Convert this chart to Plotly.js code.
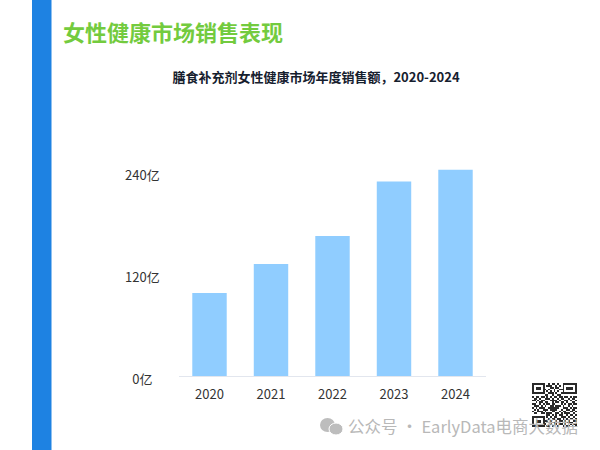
<!DOCTYPE html>
<html><head><meta charset="utf-8">
<script src="https://cdn.plot.ly/plotly-3.0.0.min.js"></script>
<style>html,body{margin:0;padding:0;background:#fff}</style></head>
<body><div id="chart" style="width:600px;height:450px"></div>
<script>
const years = ['2020','2021','2022','2023','2024'];
const sales = [98,132,165,229,243];
const tickValues = [0,120,240];
const tickLabels = ['0亿\u2007','120亿','240亿'];
const pageTitle = '女性健康市场销售表现';
const chartTitle = '膳食补充剂女性健康市场年度销售额，2020-2024';
const watermark = '公众号 · EarlyData电商大数据';
const qrRows = [
'1111111001011010011111111',
'1000001011100101010000001',
'1011101000110110010111101',
'1011101101001001110111101',
'1000001010101010010000001',
'1111111001110100111111111',
'0000000110010011000000000',
'1011011010101101101101011',
'0110100111010010110010110',
'1101011000111101001101001',
'0010110110010110110100110',
'1100101011011000101011011',
'0111010100110111010010100',
'1010111001111110011101011',
'0101001110111100100110110',
'1001110100011001011001101',
'0110011011100110101110010',
'0000000011010101100101101',
'1111111010101100111010010',
'1000001001011011010101101',
'1011101110100101101010011',
'1011101011011010010111100',
'1000001100101101101001011',
'1111111011010010010110101',
'0000000000000000000000000'
];
const qrMatrix = qrRows.map(r => r.split('').map(Number)).reverse();
const W = 600, H = 450, sans = '"Noto Sans CJK SC","Noto Sans",sans-serif';
const px = v => v / W, py = v => 1 - v / H;
const traces = [
 {type:'bar', x:years, y:sales, width:0.56, marker:{color:'#90CDFF'}, hoverinfo:'x+y'},
 {type:'heatmap', z:qrMatrix, xaxis:'x2', yaxis:'y2', showscale:false, hoverinfo:'skip',
  colorscale:[[0,'#ffffff'],[1,'#2a2a2a']], zmin:0, zmax:1}
];
const layout = {
 width:W, height:H, autosize:false, showlegend:false,
 paper_bgcolor:'#ffffff', plot_bgcolor:'rgba(0,0,0,0)',
 margin:{l:0, r:0, t:0, b:0},
 font:{family:sans, size:13, color:'#333333'},
 title:{text:'<b>'+chartTitle+'</b>', font:{family:sans, size:13, color:'#16202e'},
   x:316/W, xanchor:'center', y:py(77), yanchor:'middle'},
 xaxis:{type:'category', domain:[px(178.75),px(486.25)], range:[-0.5,4.5], showgrid:false, zeroline:false,
   showline:true, linecolor:'#e2e6ee', linewidth:1, ticks:'', ticklabelstandoff:6,
   tickfont:{family:sans, size:13, color:'#333333'}},
 yaxis:{range:[0,266.2], domain:[py(376.3),py(150)], showgrid:false, zeroline:false, showline:false, ticks:'',
   tickmode:'array', tickvals:tickValues, ticktext:tickLabels, ticklabelstandoff:18, ticklabelshift:3,
   tickfont:{family:sans, size:13, color:'#333333'}},
 xaxis2:{domain:[px(532),px(577)], anchor:'y2', visible:false, fixedrange:true},
 yaxis2:{domain:[py(429),py(383)], anchor:'x2', visible:false, fixedrange:true},
 shapes:[
  {type:'rect', xref:'paper', yref:'paper', x0:px(32), x1:px(51.5), y0:0, y1:1, fillcolor:'#1E82E2', line:{width:0}, layer:'below'},
  {type:'circle', xref:'paper', yref:'paper', x0:px(320), x1:px(335), y0:py(432), y1:py(418), fillcolor:'#bdbdbd', line:{width:0}},
  {type:'circle', xref:'paper', yref:'paper', x0:px(329), x1:px(343), y0:py(435), y1:py(423), fillcolor:'#bdbdbd', line:{width:1, color:'#ffffff'}}
 ],
 annotations:[
  {text:'<b>'+pageTitle+'</b>', xref:'paper', yref:'paper', x:px(61), y:py(31), xanchor:'left', yanchor:'middle',
   showarrow:false, font:{family:sans, size:22, color:'#73CB3E'}},
  {text:watermark, xref:'paper', yref:'paper', x:px(346), y:py(426), xanchor:'left', yanchor:'middle',
   showarrow:false, font:{family:sans, size:16.5, color:'#b8b8b8'}}
 ]
};
Plotly.newPlot('chart', traces, layout, {displayModeBar:false, staticPlot:true});
</script></body></html>
